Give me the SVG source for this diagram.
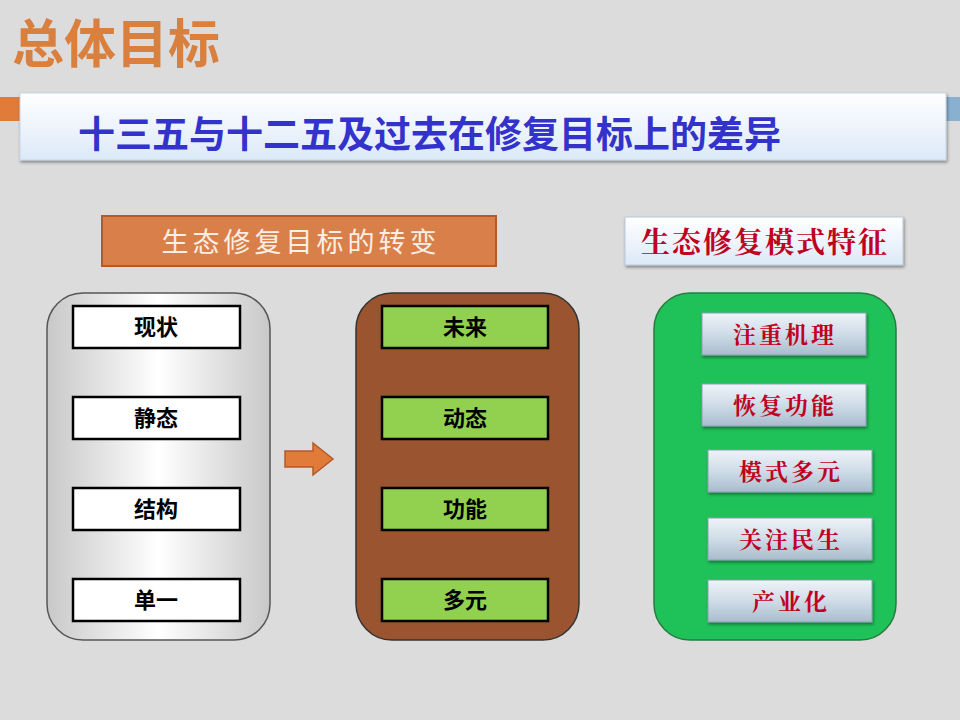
<svg xmlns="http://www.w3.org/2000/svg" width="960" height="720" viewBox="0 0 960 720">
<defs>
<linearGradient id="hdr" x1="0" y1="0" x2="0" y2="1"><stop offset="0" stop-color="#ffffff"/><stop offset="1" stop-color="#dce9f8"/></linearGradient>
<linearGradient id="grey" x1="0" y1="0" x2="1" y2="0"><stop offset="0" stop-color="#c8c8c8"/><stop offset="0.5" stop-color="#ffffff"/><stop offset="1" stop-color="#c8c8c8"/></linearGradient>
<linearGradient id="btn" x1="0" y1="0" x2="0" y2="1"><stop offset="0" stop-color="#eef3f8"/><stop offset="0.5" stop-color="#cfdce8"/><stop offset="1" stop-color="#a9bccc"/></linearGradient>
<filter id="sh" x="-10%" y="-10%" width="120%" height="130%"><feDropShadow dx="1" dy="2" stdDeviation="1.5" flood-opacity="0.4"/></filter>
</defs>
<style>
.cjk{font-family:"Noto Sans CJK SC","Noto Sans",sans-serif}
.wb{fill:#fff;stroke:#000;stroke-width:2.5}
.gb{fill:#92d050;stroke:#000;stroke-width:2.5}
.bt{font-size:22px;font-weight:bold;text-anchor:middle;fill:#000}
.rb{fill:url(#btn);stroke:#8aa0b2;stroke-width:1;filter:url(#sh)}
.rt{font-size:23px;font-weight:bold;text-anchor:middle;fill:#c00020;font-family:"Noto Serif CJK SC","Noto Sans CJK SC",serif}
</style>
<rect width="960" height="720" fill="#dcdcdc"/>
<text x="12" y="63" class="cjk" font-size="52" font-weight="bold" fill="#d9803f">总体目标</text>
<rect x="0" y="97" width="30" height="24" fill="#e07b39"/>
<rect x="930" y="97" width="30" height="24" fill="#8ab0d0"/>
<g id="header"><rect x="20" y="93" width="926" height="67" fill="url(#hdr)" stroke="#c8d4e0" filter="url(#sh)"/>
<text x="78" y="148" class="cjk" font-size="37" font-weight="bold" fill="#3333cc">十三五与十二五及过去在修复目标上的差异</text></g>
<g id="label-left"><rect x="102" y="216" width="394" height="50" fill="#d9804a" stroke="#b35a28" stroke-width="2"/>
<text x="301" y="252" class="cjk" font-size="27" fill="#fbeee4" text-anchor="middle" letter-spacing="4">生态修复目标的转变</text></g>
<g id="label-right"><rect x="625" y="217" width="278" height="48" fill="url(#hdr)" stroke="#b8c8d8" filter="url(#sh)"/>
<text x="765" y="253" class="rt" style="font-size:29px" letter-spacing="2">生态修复模式特征</text></g>
<g id="left"><rect x="47" y="293" width="223" height="347" rx="36" fill="url(#grey)" stroke="#555" stroke-width="1.5"/>
<rect x="73" y="306" width="167" height="42" class="wb"/><text x="156" y="335" class="cjk bt">现状</text>
<rect x="73" y="397" width="167" height="42" class="wb"/><text x="156" y="426" class="cjk bt">静态</text>
<rect x="73" y="488" width="167" height="42" class="wb"/><text x="156" y="517" class="cjk bt">结构</text>
<rect x="73" y="579" width="167" height="42" class="wb"/><text x="156" y="608" class="cjk bt">单一</text></g>
<g id="connectors"><path d="M285 451 H313 V443 L333 459 L313 475 V467 H285 Z" fill="#e07b39" stroke="#b35a28" stroke-width="1.5"/></g>
<g id="middle"><rect x="356" y="293" width="223" height="347" rx="36" fill="#9a5530" stroke="#333" stroke-width="1.5"/>
<rect x="382" y="306" width="166" height="42" class="gb"/><text x="465" y="335" class="cjk bt">未来</text>
<rect x="382" y="397" width="166" height="42" class="gb"/><text x="465" y="426" class="cjk bt">动态</text>
<rect x="382" y="488" width="166" height="42" class="gb"/><text x="465" y="517" class="cjk bt">功能</text>
<rect x="382" y="579" width="166" height="42" class="gb"/><text x="465" y="608" class="cjk bt">多元</text></g>
<g id="right"><rect x="654" y="293" width="242" height="347" rx="36" fill="#1ec258" stroke="#2a7a40" stroke-width="1.5"/>
<rect x="702" y="313" width="164" height="42" class="rb"/><text x="785" y="343" class="rt" letter-spacing="3">注重机理</text>
<rect x="702" y="384" width="164" height="42" class="rb"/><text x="785" y="414" class="rt" letter-spacing="3">恢复功能</text>
<rect x="708" y="450" width="164" height="42" class="rb"/><text x="791" y="480" class="rt" letter-spacing="3">模式多元</text>
<rect x="708" y="518" width="164" height="42" class="rb"/><text x="791" y="548" class="rt" letter-spacing="3">关注民生</text>
<rect x="708" y="580" width="164" height="42" class="rb"/><text x="791" y="610" class="rt" letter-spacing="3">产业化</text></g>
</svg>
